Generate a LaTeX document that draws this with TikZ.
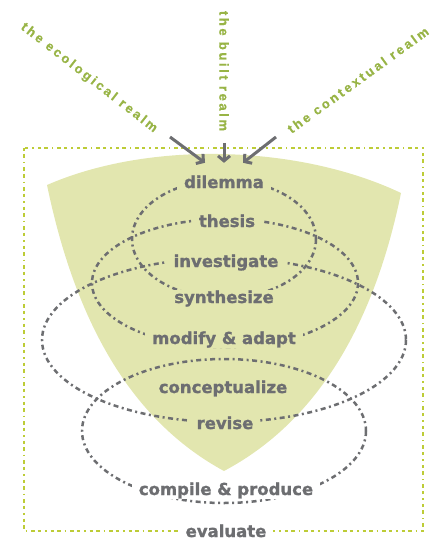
\documentclass[tikz,border=0pt]{standalone}
\usepackage{fontspec}
\setmainfont{DejaVu Sans}
\newfontfamily\stagefont[FakeBold=1.2]{DejaVu Sans Bold}
\newfontfamily\realmfont[LetterSpace=20,FakeBold=0.8]{Liberation Sans Bold}
\usetikzlibrary{arrows.meta}
\definecolor{leaf}{RGB}{226,230,175}
\definecolor{lime}{RGB}{189,204,55}
\definecolor{olive}{RGB}{152,180,70}
\definecolor{slate}{RGB}{109,110,113}
\tikzset{
  stage/.style={fill=leaf, text=slate, font=\stagefont\fontsize{16.5}{16.5}\selectfont,
    inner xsep=7pt, inner ysep=1pt, text height=12pt, text depth=3pt, anchor=base},
  realm/.style={text=olive, font=\realmfont\fontsize{13}{13}\selectfont},
  orbit/.style={slate, line width=2.5pt, dash pattern=on 5pt off 3.5pt on 2pt off 3.5pt},
  realm arrow/.style={slate, line width=3pt, -{Straight Barb[length=5pt,width=12pt]}}
}

\begin{document}
\begin{tikzpicture}[x=1pt,y=-1pt]
  \useasboundingbox (0,0) rectangle (440,540);
  % funnel
  \fill[leaf] (47,185) .. controls (150,140) and (300,145) .. (401,193)
    .. controls (375,320) and (320,420) .. (224,471)
    .. controls (130,420) and (75,320) .. (47,185) -- cycle;
  % frame
  \draw[lime, line width=2.5pt, dash pattern=on 3.5pt off 3pt on 3.5pt off 4pt on 1.5pt off 4pt]
    (24,148) rectangle (423,531);
  % loops
  \draw[orbit] (224,239) ellipse [x radius=92, y radius=59];
  \draw[orbit] (225,283) ellipse [x radius=133, y radius=64];
  \draw[orbit] (224,340) ellipse [x radius=182, y radius=82];
  \draw[orbit] (224,431) ellipse [x radius=142, y radius=72];
  % stages
  \node[stage] (dilemma) at (224,188) {dilemma};
  \node[stage] (thesis) at (227,227) {thesis};
  \node[stage] (investigate) at (226,267) {investigate};
  \node[stage] (synthesize) at (224,303) {synthesize};
  \node[stage] (modify) at (224,344) {modify \& adapt};
  \node[stage] (conceptualize) at (223,393) {conceptualize};
  \node[stage] (revise) at (225,429) {revise};
  \node[stage, fill=white] (compile) at (226,495) {compile \& produce};
  \node[stage, fill=white, text depth=0pt] (evaluate) at (226,537) {evaluate};
  % realms
  \node[realm, rotate=-38] (eco) at (89,78) {the ecological realm};
  \node[realm, rotate=-90] (built) at (224,71) {the built realm};
  \node[realm, rotate=36] (context) at (358,80) {the contextual realm};
  \coordinate (eco tail) at (170,137);
  \coordinate (built tail) at (224,143);
  \coordinate (context tail) at (276,137);
  \draw[realm arrow] (eco tail) -- ([xshift=-19pt,yshift=12pt]dilemma.north);
  \draw[realm arrow] (built tail) -- ([yshift=12pt]dilemma.north);
  \draw[realm arrow] (context tail) -- ([xshift=19pt,yshift=12pt]dilemma.north);
\end{tikzpicture}
\end{document}
